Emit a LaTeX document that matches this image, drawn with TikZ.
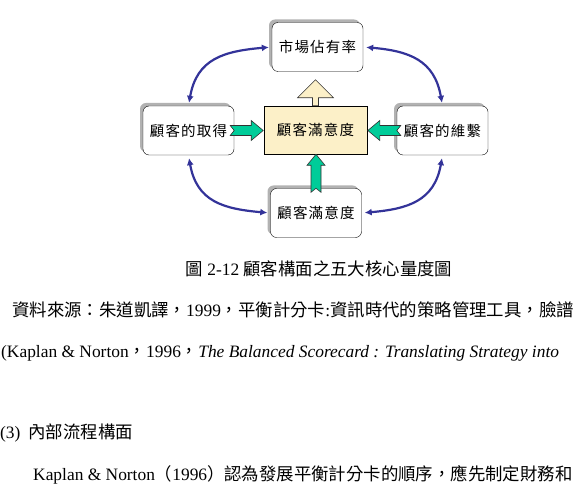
\documentclass[tikz,border=0pt]{standalone}
\usepackage{fontspec}
\setmainfont{Liberation Serif}
\newfontfamily\cjktc{Noto Sans CJK TC}
\newfontfamily\cjkbox{Noto Sans CJK TC}[LetterSpace=8]
\usetikzlibrary{arrows.meta,shadows}
\definecolor{cyclecol}{RGB}{51,51,153}
\definecolor{pushcol}{RGB}{0,204,153}
\definecolor{corecol}{RGB}{252,240,200}

\begin{document}
\begin{tikzpicture}[
        x=1pt, y=1pt,
        measure/.style={draw, rounded corners=6pt, fill=white, minimum width=91pt, minimum height=49pt, inner sep=0pt,
            font=\fontsize{14.5}{16}\selectfont\cjkbox,
            drop shadow={shadow xshift=-3pt, shadow yshift=3pt, fill=gray!60, opacity=1}},
        core/.style={draw, fill=corecol, minimum width=103pt, minimum height=48pt, inner sep=0pt, font=\fontsize{14.5}{16}\selectfont\cjkbox},
        cycarrow/.style={draw=cyclecol, line width=2.2pt, <->, >={Latex[length=7pt,width=7pt]}, shorten <=3pt, shorten >=3pt, looseness=1.2},
        pusharrow/.style={draw=black!80, fill=pushcol, line width=0.6pt},
        txt/.style={anchor=base west, inner sep=0pt, font=\fontsize{17.4}{20}\selectfont}
    ]
        \useasboundingbox (0,0) rectangle (576,-502);
        \clip (0,0) rectangle (576,-502);

        \node[measure] (share) at (317.5,-47) {市場佔有率};
        \node[measure] (acquire) at (188.5,-130.5) {顧客的取得};
        \node[core] (satisfy) at (315.5,-130) {顧客滿意度};
        \node[measure] (retain) at (442.5,-130.5) {顧客的維繫};
        \node[measure] (satisfyb) at (316,-213) {顧客滿意度};

        \draw[cycarrow] (share.west) to[out=185, in=80] (acquire.north);
        \draw[cycarrow] (share.east) to[out=-5, in=100] (retain.north);
        \draw[cycarrow] (acquire.south) to[out=-80, in=175] (satisfyb.west);
        \draw[cycarrow] (retain.south) to[out=-100, in=5] (satisfyb.east);

        \draw[pusharrow, shift={(acquire.east)}] (-4,-5) -- (17,-5) -- (17,-10) -- (29,0) -- (17,10) -- (17,5) -- (-4,5) -- (0,0) -- cycle;
        \draw[pusharrow, shift={(retain.west)}, xscale=-1] (-4,-5) -- (17,-5) -- (17,-10) -- (29,0) -- (17,10) -- (17,5) -- (-4,5) -- (0,0) -- cycle;
        \draw[pusharrow, shift={(satisfyb.north)}, rotate=90] (-4,-5) -- (23,-5) -- (23,-9) -- (34,0) -- (23,9) -- (23,5) -- (-4,5) -- (0,0) -- cycle;
        \draw[draw=black!80, fill=corecol, line width=0.6pt, shift={(satisfy.north)}, rotate=90] (0,-3) -- (8,-3) -- (8,-18) -- (26,0) -- (8,18) -- (8,3) -- (0,3) -- cycle;

        \node[txt, anchor=base] (caption) at (319,-276) {{\cjktc 圖} 2-12 {\cjktc 顧客構面之五大核心量度圖}};
        \node[txt] (source) at (12,-317) {{\cjktc 資料來源：朱道凱譯，}1999{\cjktc ，平衡計分卡}:{\cjktc 資訊時代的策略管理工具，臉譜}};
        \node[txt] (sourceb) at (1,-358) {(Kaplan \& Norton{\cjktc ，}1996{\cjktc ，}\textit{The Balanced Scorecard : Translating Strategy into}};
        \node[txt] (heading) at (0,-439) {(3)\hspace{8pt}{\cjktc 內部流程構面}};
        \node[txt] (para) at (33,-481) {Kaplan \& Norton{\cjktc （}1996{\cjktc ）認為發展平衡計分卡的順序，應先制定財務和}};
    \end{tikzpicture}
\end{document}
